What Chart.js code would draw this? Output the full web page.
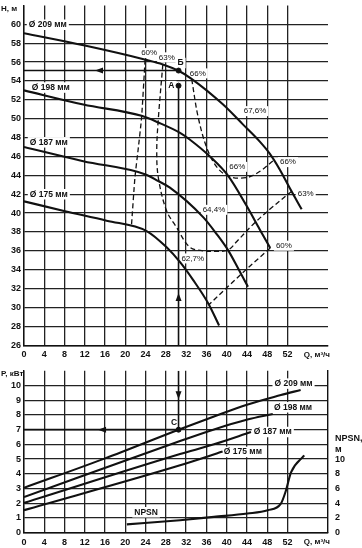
<!DOCTYPE html>
<html><head><meta charset="utf-8">
<script src="https://cdn.jsdelivr.net/npm/chart.js@4.4.1/dist/chart.umd.min.js"></script>
<style>
html,body{margin:0;padding:0;background:#fff;}
#wrap{position:relative;width:362px;height:548px;overflow:hidden;background:#fff;}
canvas{position:absolute;left:0;}
</style></head><body>
<div id="wrap">
<canvas id="top" width="362" height="362" style="top:0;width:362px;height:362px"></canvas>
<canvas id="bot" width="362" height="188" style="top:360px;width:362px;height:188px"></canvas>
</div>
<script>
// ---- tick labels ----
const qTickLabels = [0,4,8,12,16,20,24,28,32,36,40,44,48,52];
const hTickLabels = [26,28,30,32,34,36,38,40,42,44,46,48,50,52,54,56,58,60];
const pTickLabels = [0,1,2,3,4,5,6,7,8,9,10];
const nTickLabels = [0,2,4,6,8,10];

// ---- head curves H(Q) ----
const q209 = [0, 12, 24, 27.4, 30.4, 33, 39.3, 43.2, 46.5, 48.5, 50.5, 52.5, 54.8];
const h209 = [59.05, 57.75, 56.25, 55.75, 55.1, 54.25, 51.5, 49.4, 47.6, 46.3, 44.6, 42.6, 40.4];
const q198 = [0, 11.7, 23.2, 26.5, 30.8, 32.7, 36.7, 40.3, 43.9, 46.5, 48.6];
const h198 = [53.0, 51.5, 50.3, 49.6, 48.5, 47.8, 46.0, 43.95, 40.8, 38.3, 36.3];
const q187 = [0, 11.7, 24, 26.5, 28.8, 35.4, 38, 40.3, 42.3, 44.2];
const h187 = [47.0, 45.5, 44.1, 43.4, 42.7, 39.55, 37.8, 36.05, 34.1, 32.2];
const q175 = [0, 8.1, 16.3, 24.2, 28.1, 30.8, 33.4, 36.4, 38.5];
const h175 = [41.25, 40.2, 39.2, 38.1, 36.4, 34.8, 32.9, 30.4, 28.1];

// ---- efficiency contours (dashed) ----
const qE60a = [23.9, 23.2, 22.5, 21.9, 21.2];
const hE60a = [56.25, 50.1, 46.6, 43.8, 38.6];
const qE63 = [27.4, 26.5, 26.2, 26.5, 28.1, 30.1, 32.7, 35.4, 38.0, 40.3, 42.0, 45.2, 48.5, 52.8];
const hE63 = [55.75, 49.9, 46.6, 43.8, 40.3, 38.5, 36.4, 36.0, 35.95, 36.1, 37.0, 38.8, 40.4, 42.3];
const qE66 = [33.1, 34.4, 36.3, 38.5, 41.0, 44.2, 46.5, 49.3];
const hE66 = [54.2, 50.1, 46.6, 44.6, 43.8, 43.8, 44.4, 45.6];
const qE60b = [48.6, 44.4, 40.2, 36.5];
const hE60b = [36.3, 34.3, 32.2, 30.3];

// ---- operating point ----
const qOp = [30.5];
const hB = [55.1];
const hA = [53.5];
const pC = [7.0];

// ---- power curves P(Q) ----
const q209p = [0, 16, 30.5, 37.5, 44, 50.7, 54.6];
const p209 = [3.05, 5.05, 7.0, 7.9, 8.7, 9.35, 9.7];
const q198p = [0, 30.8, 37.5, 44.1, 49.1];
const p198 = [2.42, 6.23, 7.02, 7.69, 8.07];
const q187p = [0, 30.8, 37.5, 44.8];
const p187 = [2.02, 5.34, 6.01, 6.84];
const q175p = [0, 30.8, 39.2];
const p175 = [1.53, 4.58, 5.51];

// ---- NPSN(Q) ----
const qN = [20.3, 30.8, 37.5, 44.1, 48.1, 50.7, 51.7, 52.7, 55.3];
const nN = [1.13, 1.7, 2.15, 2.6, 3.05, 3.95, 5.74, 8.2, 10.5];

const pts = (xs, ys) => xs.map((x, i) => ({x, y: ys[i]}));
const FONT = 'Liberation Sans, Arial, sans-serif';
const INK = '#111';
const GRID = '#222';

function solid(data, w, extra) {
  return Object.assign({data, showLine: true, borderColor: INK, backgroundColor: INK,
    borderWidth: w, pointRadius: 0, cubicInterpolationMode: 'monotone'}, extra || {});
}
function dashed(data, tension) {
  return {data, showLine: true, borderColor: INK, borderWidth: 1.3, borderDash: [5, 3],
    pointRadius: 0, tension: tension};
}
function tickFont(hideVal) {
  return ctx => (ctx.tick && ctx.tick.value === hideVal)
    ? {family: FONT, size: 1}
    : {family: FONT, size: 9, weight: 'bold'};
}

const textPlugin = {
  id: 'texts',
  beforeDatasetsDraw(chart, args, o) {
    const ctx = chart.ctx;
    (o.labels || []).forEach(l => {
      const ys = chart.scales[l.axis || 'y'];
      ctx.save();
      ctx.font = (l.bold ? 'bold ' : '') + l.size + 'px ' + FONT;
      const w = ctx.measureText(l.text).width;
      const px = chart.scales.x.getPixelForValue(l.x), py = ys.getPixelForValue(l.y);
      ctx.fillStyle = '#fff';
      ctx.fillRect(px - w / 2 - 2, py - l.size / 2 - 1, w + 4, l.size + 2);
      ctx.restore();
    });
  },
  afterDatasetsDraw(chart, args, o) {
    const ctx = chart.ctx, xs = chart.scales.x;
    ctx.save();
    ctx.fillStyle = INK;
    ctx.textAlign = 'center';
    ctx.textBaseline = 'middle';
    (o.labels || []).forEach(l => {
      const ys = chart.scales[l.axis || 'y'];
      ctx.font = (l.bold ? 'bold ' : '') + l.size + 'px ' + FONT;
      ctx.fillText(l.text, xs.getPixelForValue(l.x), ys.getPixelForValue(l.y));
    });
    (o.arrows || []).forEach(a => {
      const ys = chart.scales[a.axis || 'y'];
      const px = xs.getPixelForValue(a.x), py = ys.getPixelForValue(a.y);
      const s = 5;
      ctx.beginPath();
      if (a.dir === 'left') { ctx.moveTo(px - s, py); ctx.lineTo(px + s * 0.6, py - 3); ctx.lineTo(px + s * 0.6, py + 3); }
      if (a.dir === 'up') { ctx.moveTo(px, py - s); ctx.lineTo(px - 3, py + s * 0.6); ctx.lineTo(px + 3, py + s * 0.6); }
      if (a.dir === 'down') { ctx.moveTo(px, py + s); ctx.lineTo(px - 3, py - s * 0.6); ctx.lineTo(px + 3, py - s * 0.6); }
      ctx.closePath();
      ctx.fill();
    });
    // axis titles
    const ca = chart.chartArea;
    ctx.font = 'bold 8px ' + FONT;
    ctx.textAlign = 'left';
    ctx.fillText(o.yTitle, 1, chart.scales.y.getPixelForValue(chart.scales.y.max) + 3);
    ctx.textAlign = 'center';
    ctx.fillText('Q, м³/ч', xs.getPixelForValue(57.8), ca.bottom + 9);
    ctx.restore();
  }
};

function xScale(h) {
  return {
    type: 'linear', min: 0, max: 60,
    afterFit: s => { s.height = h; },
    ticks: {stepSize: 4, autoSkip: false, maxRotation: 0, padding: 4, color: INK,
      font: {family: FONT, size: 9, weight: 'bold'},
      callback: v => qTickLabels.includes(v) ? String(v) : null},
    grid: {color: GRID, lineWidth: 1.3, drawTicks: false},
    border: {color: INK, width: 1.4}
  };
}

new Chart(document.getElementById('top'), {
  type: 'scatter',
  data: {datasets: [
    solid(pts([0, qOp[0]], [hB[0], hB[0]]), 1.6, {cubicInterpolationMode: 'default', tension: 0}),
    solid(pts([qOp[0], qOp[0]], [26, hA[0]]), 1.6, {cubicInterpolationMode: 'default', tension: 0}),
    solid(pts(q209, h209), 2.1),
    solid(pts(q198, h198), 2.1),
    solid(pts(q187, h187), 2.1),
    solid(pts(q175, h175), 2.1),
    dashed(pts(qE60a, hE60a), 0.2),
    dashed(pts(qE63, hE63), 0.35),
    dashed(pts(qE66, hE66), 0.35),
    dashed(pts(qE60b, hE60b), 0),
    {data: pts([qOp[0], qOp[0]], [hB[0], hA[0]]), showLine: false, pointRadius: 2.5,
      pointBackgroundColor: INK, pointBorderColor: INK}
  ]},
  options: {
    responsive: false, animation: false,
    layout: {padding: {left: 0, right: 34, top: 3.7, bottom: 0}},
    scales: {
      x: xScale(16.7),
      y: {
        type: 'linear', min: 26, max: 62,
        afterFit: s => { s.width = 24; },
        ticks: {stepSize: 2, padding: 0, color: INK, font: tickFont(62),
          callback: v => hTickLabels.includes(v) ? String(v) : null},
        grid: {color: GRID, lineWidth: 1.3, drawTicks: true, tickLength: 3, tickColor: 'rgba(0,0,0,0)'},
        border: {color: INK, width: 1.4}
      }
    },
    plugins: {
      legend: {display: false}, tooltip: {enabled: false},
      texts: {
        yTitle: 'H, м',
        labels: [
          {text: 'Ø 209 мм', x: 4.7, y: 59.95, size: 8.5, bold: true},
          {text: 'Ø 198 мм', x: 5.3, y: 53.3, size: 8.5, bold: true},
          {text: 'Ø 187 мм', x: 4.9, y: 47.5, size: 8.5, bold: true},
          {text: 'Ø 175 мм', x: 4.9, y: 42.0, size: 8.5, bold: true},
          {text: '60%', x: 24.7, y: 56.95, size: 8},
          {text: '63%', x: 28.2, y: 56.5, size: 8},
          {text: 'Б', x: 30.9, y: 55.9, size: 8.5, bold: true},
          {text: '66%', x: 34.3, y: 54.8, size: 8},
          {text: 'A', x: 29.1, y: 53.45, size: 8.5, bold: true},
          {text: '67,6%', x: 45.6, y: 50.8, size: 8},
          {text: '66%', x: 42.1, y: 44.9, size: 8},
          {text: '66%', x: 52.1, y: 45.4, size: 8},
          {text: '63%', x: 55.6, y: 42.0, size: 8},
          {text: '64,4%', x: 37.5, y: 40.35, size: 8},
          {text: '60%', x: 51.3, y: 36.55, size: 8},
          {text: '62,7%', x: 33.3, y: 35.2, size: 8}
        ],
        arrows: [
          {x: 15, y: 55.1, dir: 'left'},
          {x: 30.5, y: 31, dir: 'up'}
        ]
      }
    }
  },
  plugins: [textPlugin]
});

new Chart(document.getElementById('bot'), {
  type: 'scatter',
  data: {datasets: [
    solid(pts([0, qOp[0]], [pC[0], pC[0]]), 1.6, {cubicInterpolationMode: 'default', tension: 0}),
    solid(pts([qOp[0], qOp[0]], [11, pC[0]]), 1.6, {cubicInterpolationMode: 'default', tension: 0}),
    solid(pts(q209p, p209), 2.1),
    solid(pts(q198p, p198), 2.1),
    solid(pts(q187p, p187), 2.1),
    solid(pts(q175p, p175), 2.1),
    solid(pts(qN, nN), 2.1, {yAxisID: 'y2'}),
    {data: pts(qOp, pC), showLine: false, pointRadius: 2.5, pointBackgroundColor: INK, pointBorderColor: INK}
  ]},
  options: {
    responsive: false, animation: false,
    layout: {padding: {left: 0, right: 0, top: 9, bottom: 0}},
    scales: {
      x: xScale(15.3),
      y: {
        type: 'linear', min: 0, max: 11,
        afterFit: s => { s.width = 24; },
        ticks: {stepSize: 1, padding: 0, color: INK, font: tickFont(11),
          callback: v => pTickLabels.includes(v) ? String(v) : null},
        grid: {color: GRID, lineWidth: 1.3, drawTicks: true, tickLength: 3, tickColor: 'rgba(0,0,0,0)'},
        border: {color: INK, width: 1.4}
      },
      y2: {
        type: 'linear', position: 'right', min: 0, max: 22,
        afterFit: s => { s.width = 34; },
        ticks: {stepSize: 2, padding: 0, color: INK, font: tickFont(22),
          callback: v => nTickLabels.includes(v) ? String(v) : (v === 12 ? ['NPSN,', 'м'] : null)},
        grid: {display: true, drawOnChartArea: false, drawTicks: true, tickLength: 7, tickColor: 'rgba(0,0,0,0)'},
        border: {color: INK, width: 1.4}
      }
    },
    plugins: {
      legend: {display: false}, tooltip: {enabled: false},
      texts: {
        yTitle: 'P, кВт',
        labels: [
          {text: 'Ø 209 мм', x: 53.2, y: 10.13, size: 8.5, bold: true},
          {text: 'Ø 198 мм', x: 53.1, y: 8.52, size: 8.5, bold: true},
          {text: 'Ø 187 мм', x: 49.1, y: 6.84, size: 8.5, bold: true},
          {text: 'Ø 175 мм', x: 43.2, y: 5.49, size: 8.5, bold: true},
          {text: 'NPSN', x: 24.1, y: 1.39, size: 8.5, bold: true},
          {text: 'C', x: 29.6, y: 7.5, size: 8.5, bold: true}
        ],
        arrows: [
          {x: 15.6, y: 7, dir: 'left'},
          {x: 30.5, y: 9.4, dir: 'down'}
        ]
      }
    }
  },
  plugins: [textPlugin]
});
</script>
</body></html>
